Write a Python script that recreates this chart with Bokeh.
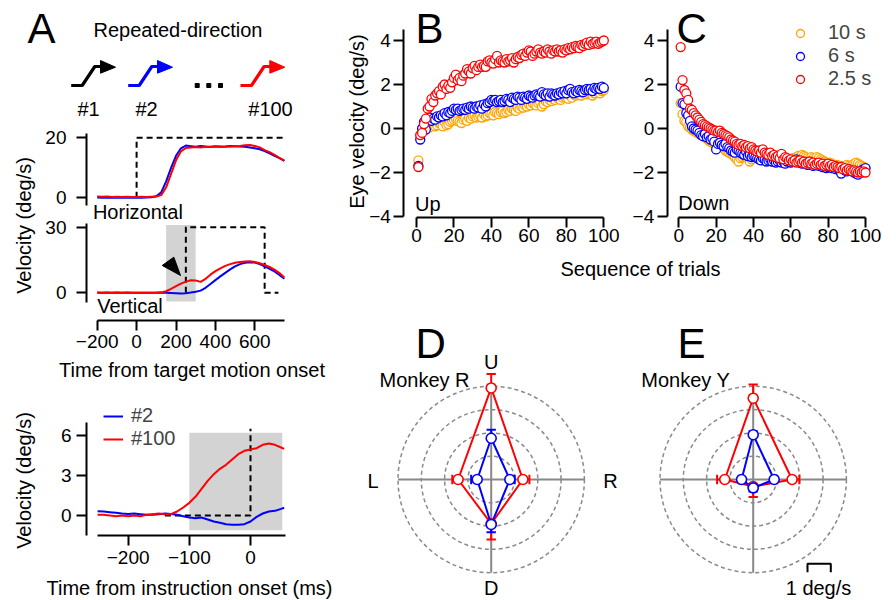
import numpy as np
from bokeh.plotting import figure
from bokeh.layouts import row, column
from bokeh.models import Range1d, FixedTicker, Legend, LegendItem, LinearAxis
from bokeh.core.properties import value
from bokeh.embed import file_html
from bokeh.resources import INLINE

FONT = "Liberation Sans"
BLUE, RED, ORANGE, BOXGRAY, RINGGRAY = "#0000ff", "#ff0000", "#ffa500", "#d3d3d3", "#8a8a8a"

# ====================== DATA ======================
# Panel A (top): eye velocity aligned to target motion onset (ms, deg/s)
t_motion = [-200, -175, -150, -125, -100, -75, -50, -25, 0, 25, 50, 75, 100, 125, 150, 175, 200,
            225, 250, 275, 300, 325, 350, 375, 400, 425, 450, 475, 500, 525, 550, 575, 600,
            625, 650, 675, 700, 725, 750]
horiz_trial2 = [0.1, 0.05, 0.1, 0.0, 0.1, 0.05, 0.1, 0.05, 0.1, 0.05, 0.1, 0.2, 0.5, 1.8, 5.5, 10.0, 14.0,
                16.5, 17.4, 17.2, 17.0, 17.3, 17.1, 17.0, 17.2, 17.0, 17.1, 17.3, 17.2, 17.1, 17.0, 16.8, 16.5,
                16.2, 15.6, 14.8, 14.0, 13.2, 12.3]
horiz_trial100 = [0.4, 0.35, 0.4, 0.3, 0.35, 0.3, 0.35, 0.3, 0.3, 0.35, 0.3, 0.35, 0.4, 0.9, 3.5, 8.0, 12.5,
                  15.5, 16.6, 16.8, 16.9, 16.8, 17.0, 16.9, 17.0, 17.1, 17.0, 17.1, 17.2, 17.3, 17.5, 17.6, 17.3,
                  16.8, 15.9, 15.2, 14.3, 13.3, 12.4]
vert_trial2 = [0.1, 0.0, 0.1, 0.05, 0.1, 0.0, 0.1, 0.05, 0.0, 0.05, 0.0, 0.05, 0.0, 0.05, 0.0, -0.1, -0.2,
               -0.3, -0.2, 0.1, 0.5, 1.0, 2.3, 4.0, 5.8, 7.5, 9.1, 10.7, 12.1, 13.1, 13.7, 14.0, 13.8,
               13.1, 12.1, 11.0, 9.8, 8.2, 6.4]
vert_trial100 = [0.0, 0.05, 0.0, 0.05, 0.0, 0.05, 0.0, 0.05, 0.0, 0.05, 0.0, 0.05, 0.1, 0.2, 0.7, 1.8, 3.0,
                 4.2, 5.1, 5.7, 5.6, 5.0, 6.4, 8.3, 9.9, 11.2, 12.3, 13.1, 13.7, 14.1, 14.3, 14.4, 14.1,
                 13.5, 12.7, 11.8, 10.6, 9.0, 7.0]
horiz_target_t = [0, 0, 750]
horiz_target_v = [0, 20, 20]
vert_target_t = [250, 250, 650, 650, 720]
vert_target_v = [0, 30, 30, 0, 0]
vert_window_t = [150, 300]
vert_window_v = [-4.0, 31.0]
arrowhead_t = [130, 189, 223]
arrowhead_v = [12.5, 16.3, 7.9]

# Panel A (bottom): aligned to instruction onset
t_instr = [-250, -240, -230, -220, -210, -200, -190, -180, -170, -160, -150, -140, -130, -120, -110, -100,
           -90, -80, -70, -60, -50, -40, -30, -20, -10, 0, 10, 20, 30, 40, 50, 55]
instr_trial2 = [0.32, 0.3, 0.25, 0.2, 0.15, 0.12, 0.15, 0.1, 0.05, 0.05, 0.1, 0.15, 0.12, 0.05, -0.05, -0.15,
                -0.2, -0.15, -0.3, -0.45, -0.55, -0.65, -0.7, -0.7, -0.65, -0.45, -0.1, 0.15, 0.3, 0.35, 0.5, 0.58]
instr_trial100 = [0.05, 0.05, 0.0, -0.05, 0.0, -0.05, 0.0, -0.05, 0.05, 0.1, 0.15, 0.1, 0.1, 0.3, 0.6, 0.95,
                  1.4, 2.0, 2.6, 3.1, 3.5, 3.8, 4.2, 4.6, 4.85, 4.95, 5.05, 5.3, 5.4, 5.3, 5.1, 5.0]
instr_target_t = [-140, 0, 0]
instr_target_v = [0, 0, 6.5]
instr_window_t = [-100, 52]
instr_window_v = [-1.1, 6.2]

# Panels B, C: eye velocity vs trial number
trials = list(range(1, 101))
up_10s = [-1.45, -0.30, -0.10, 0.20, 0.30, 0.10, 0.05, 0.15, 0.20, 0.10,
          0.15, 0.25, 0.20, 0.10, 0.30, 0.15, 0.20, 0.30, 0.35, 0.40,
          0.45, 0.35, 0.30, 0.25, 0.40, 0.45, 0.35, 0.50, 0.45, 0.55,
          0.60, 0.50, 0.55, 0.60, 0.50, 0.65, 0.55, 0.60, 0.70, 0.65,
          0.60, 0.75, 0.70, 0.65, 0.75, 0.80, 0.70, 0.75, 0.85, 0.80,
          0.90, 0.85, 0.80, 0.95, 0.90, 1.00, 0.95, 1.05, 1.00, 1.10,
          1.05, 1.15, 1.10, 1.05, 1.15, 1.20, 1.00, 1.10, 1.25, 1.20,
          1.30, 1.25, 1.35, 1.30, 1.40, 1.35, 1.30, 1.40, 1.45, 1.40,
          1.35, 1.50, 1.40, 1.55, 1.50, 1.60, 1.55, 1.50, 1.60, 1.65,
          1.55, 1.60, 1.65, 1.50, 1.60, 1.70, 1.65, 1.60, 1.70, 1.75]
up_6s = [-1.70, -0.50, 0.00, 0.30, -0.05, 0.45, 0.50, 0.35, 0.45, 0.40,
         0.55, 0.50, 0.60, 0.55, 0.70, 0.60, 0.75, 0.70, 0.80, 0.90,
         0.85, 0.90, 0.80, 0.85, 0.90, 0.85, 0.95, 0.90, 1.00, 0.95,
         0.90, 1.00, 0.95, 1.05, 0.90, 1.10, 1.00, 1.15, 1.20, 1.30,
         1.25, 1.30, 1.20, 1.25, 1.30, 1.20, 1.25, 1.35, 1.30, 1.20,
         1.40, 1.35, 1.30, 1.45, 1.40, 1.30, 1.45, 1.40, 1.35, 1.50,
         1.45, 1.40, 1.50, 1.55, 1.50, 1.45, 1.65, 1.55, 1.50, 1.60,
         1.45, 1.60, 1.55, 1.50, 1.60, 1.55, 1.65, 1.60, 1.70, 1.60,
         1.75, 1.80, 1.65, 1.60, 1.70, 1.65, 1.75, 1.70, 1.65, 1.75,
         1.80, 1.75, 1.80, 1.70, 1.85, 1.80, 1.85, 1.80, 1.90, 1.85]
up_2p5s = [-1.75, -0.30, -0.20, 0.20, 0.45, 0.90, 1.00, 1.35, 1.20, 1.50,
           1.60, 1.70, 1.55, 1.90, 2.00, 1.80, 1.95, 1.85, 2.10, 2.30,
           2.45, 2.20, 2.30, 2.15, 2.40, 2.50, 2.70, 2.60, 2.50, 2.75,
           2.85, 2.65, 2.80, 2.90, 2.80, 2.85, 2.80, 3.05, 3.10, 3.00,
           2.95, 3.15, 3.30, 3.00, 3.10, 3.05, 3.00, 3.15, 3.05, 3.10,
           3.20, 3.00, 3.15, 3.25, 3.20, 3.35, 3.40, 3.30, 3.45, 3.55,
           3.50, 3.30, 3.40, 3.50, 3.60, 3.45, 3.40, 3.50, 3.45, 3.60,
           3.50, 3.40, 3.55, 3.50, 3.60, 3.50, 3.55, 3.45, 3.60, 3.55,
           3.65, 3.60, 3.70, 3.65, 3.75, 3.70, 3.65, 3.80, 3.75, 3.85,
           3.90, 3.80, 3.95, 3.85, 3.90, 3.95, 3.85, 3.90, 3.95, 4.00]
down_10s = [1.15, 0.65, 0.35, 0.30, 0.10, 0.05, -0.05, -0.10, -0.15, -0.20,
            -0.25, -0.30, -0.35, -0.40, -0.45, -0.55, -0.60, -0.65, -0.70, -0.75,
            -0.80, -0.70, -0.85, -0.90, -1.00, -1.05, -1.10, -1.15, -1.20, -1.30,
            -1.40, -1.50, -1.35, -1.30, -1.25, -1.20, -1.35, -1.50, -1.40, -1.30,
            -1.20, -1.35, -1.40, -1.30, -1.45, -1.40, -1.35, -1.45, -1.40, -1.50,
            -1.45, -1.40, -1.50, -1.45, -1.40, -1.50, -1.45, -1.35, -1.40, -1.45,
            -1.35, -1.40, -1.30, -1.25, -1.30, -1.20, -1.25, -1.30, -1.35, -1.40,
            -1.30, -1.35, -1.40, -1.30, -1.35, -1.40, -1.45, -1.50, -1.55, -1.60,
            -1.55, -1.60, -1.65, -1.70, -1.65, -1.75, -1.70, -1.75, -1.70, -1.65,
            -1.70, -1.75, -1.65, -1.60, -1.55, -1.60, -1.65, -1.70, -1.75, -1.80]
down_6s = [1.90, 1.15, 1.10, 0.70, 0.60, 0.35, 0.10, 0.00, -0.05, -0.10,
           -0.20, -0.30, -0.35, -0.25, -0.40, -0.35, -0.50, -0.45, -0.60, -0.95,
           -0.70, -0.65, -0.75, -0.80, -0.70, -0.85, -0.90, -1.00, -1.05, -1.10,
           -0.95, -1.00, -1.10, -1.15, -1.20, -1.05, -1.25, -1.20, -1.30, -1.25,
           -1.30, -1.35, -1.40, -1.45, -1.35, -1.40, -1.50, -1.45, -1.40, -1.50,
           -1.45, -1.55, -1.50, -1.45, -1.55, -1.50, -1.60, -1.50, -1.45, -1.55,
           -1.50, -1.45, -1.40, -1.50, -1.55, -1.60, -1.55, -1.60, -1.65, -1.55,
           -1.60, -1.70, -1.65, -1.60, -1.70, -1.65, -1.75, -1.70, -1.80, -1.75,
           -1.70, -1.80, -1.75, -1.85, -1.80, -1.90, -2.05, -1.85, -1.90, -1.95,
           -1.85, -1.90, -1.95, -2.00, -2.05, -2.10, -1.95, -1.90, -1.85, -1.80]
down_2p5s = [3.70, 2.20, 1.75, 1.60, 1.30, 0.90, 0.85, 0.70, 0.60, 0.50,
             0.40, 0.30, 0.20, 0.15, 0.10, 0.05, 0.00, -0.05, -0.10, -0.10,
             -0.15, -0.10, -0.20, -0.25, -0.30, -0.35, -0.40, -0.50, -0.55, -0.60,
             -0.70, -0.75, -0.70, -0.80, -0.75, -0.85, -0.80, -0.90, -0.85, -0.95,
             -1.00, -1.05, -1.00, -1.10, -0.95, -1.10, -1.15, -1.20, -1.10, -1.25,
             -1.20, -1.30, -1.25, -1.35, -1.15, -1.40, -1.30, -1.35, -1.45, -1.40,
             -1.50, -1.45, -1.55, -1.50, -1.45, -1.55, -1.50, -1.60, -1.55, -1.50,
             -1.60, -1.55, -1.65, -1.60, -1.55, -1.65, -1.60, -1.70, -1.65, -1.60,
             -1.70, -1.65, -1.75, -1.70, -1.75, -1.80, -1.75, -1.85, -1.80, -1.90,
             -1.85, -1.90, -1.95, -1.90, -1.95, -2.00, -1.95, -2.00, -1.95, -2.00]

# Panels D, E: polar plots (order: Up, Right, Down, Left), deg/s
directions = ["U", "R", "D", "L"]
ring_radii = [1, 2, 3, 4]
monkeyR_2p5s = [3.93, 1.36, 1.90, 1.42]
monkeyR_2p5s_err = [0.60, 0.28, 0.67, 0.25]
monkeyR_6s = [1.77, 0.80, 1.93, 0.60]
monkeyR_6s_err = [0.37, 0.21, 0.33, 0.26]
monkeyY_2p5s = [3.49, 1.67, 0.30, 1.22]
monkeyY_2p5s_err = [0.59, 0.31, 0.45, 0.33]
monkeyY_6s = [1.92, 0.90, 0.36, 0.50]
monkeyY_6s_err = [0.15, 0.13, 0.15, 0.12]
scale_bar_len = 1.0

# ====================== PIXEL -> DATA MAPS (layout only) ======================
tx = lambda px: (px - 136.1) / 0.197        # panel A top, time
hy = lambda py: (197.3 - py) / 3.0          # horizontal velocity
vy = lambda py: (292.3 - py) / 2.187        # vertical velocity
ix = lambda px: (px - 250.0) / 0.6117       # panel A bottom, time
iy = lambda py: (515.0 - py) / 13.333
bx = lambda px: (px - 416.0) / 1.873        # panel B trials
cx = lambda px: (px - 678.3) / 1.867        # panel C trials
by = lambda py: 4.0 - (py - 40.0) / 22.0    # B/C velocity
dx = lambda px: (px - 490.7) / 23.3         # panel D
ex = lambda px: (px - 752.7) / 23.3         # panel E
dy = lambda py: (479.0 - py) / 23.3


# ====================== HELPERS ======================
def fig(w, h, xr, yr, xaxis=False, yaxis=False):
    p = figure(width=w, height=h, x_range=Range1d(*xr), y_range=Range1d(*yr),
               toolbar_location=None, output_backend="svg",
               x_axis_location="below" if xaxis else None,
               y_axis_location="left" if yaxis else None)
    p.min_border_left = p.min_border_right = p.min_border_top = p.min_border_bottom = 0
    p.outline_line_color = None
    p.grid.visible = False
    p.background_fill_color = "white"
    p.border_fill_color = "white"
    return p


def style_axis(ax, ticks, bounds, loc, standoff=3):
    ax.fixed_location = loc
    ax.ticker = FixedTicker(ticks=ticks)
    ax.bounds = bounds
    ax.axis_line_width = 2
    ax.axis_line_color = "black"
    ax.major_tick_line_width = 2
    ax.major_tick_line_color = "black"
    ax.major_tick_out = 10
    ax.major_tick_in = 0
    ax.minor_tick_line_color = None
    ax.minor_tick_out = 0
    ax.major_label_text_font = FONT
    ax.major_label_text_font_size = "19px"
    ax.major_label_text_color = "black"
    ax.major_label_standoff = standoff


def txt(p, x, y, s, size="20px", align="center", angle=0.0, y_range_name="default"):
    p.text(x=[x], y=[y], text=[s], text_font=value(FONT), text_font_size=size,
           text_align=align, text_baseline="middle", angle=angle, text_color="black",
           y_range_name=y_range_name)


# ====================== PANEL A HEADER ======================
hdr = fig(345, 125, (0, 345), (125, 0))
txt(hdr, 27, 28.3, "A", size="42px", align="left")
txt(hdr, 177.5, 29, "Repeated-direction")
icon_dx = [0, 11, 23.6, 30]
icon_dy = [0, 0, -19, -19]
head_dx = [29.3, 29.3, 44.3]
head_dy = [-25, -12.3, -18.3]
for x0, col in zip([70.7, 127.7, 240.0], ["black", BLUE, RED]):
    hdr.line([x0 + d for d in icon_dx], [85 + d for d in icon_dy], line_color=col, line_width=3.2)
    hdr.patch([x0 + d for d in head_dx], [85 + d for d in head_dy], color=col)
hdr.scatter([196.7, 208.3, 220.0], [85, 85, 85], marker="square", size=4, color="black")
for x0, lab in zip([88, 146, 270], ["#1", "#2", "#100"]):
    txt(hdr, x0, 108, lab)

vlab = fig(40, 475, (0, 40), (600, 125))
txt(vlab, 23, 225, "Velocity (deg/s)", angle=np.pi / 2)
txt(vlab, 23, 480, "Velocity (deg/s)", angle=np.pi / 2)

# ---- Horizontal + Vertical (one canvas, two y ranges) ----
pa = fig(305, 260, (tx(40), tx(345)), (vy(385), vy(125)), xaxis=True, yaxis=True)
pa.extra_y_ranges = {"h": Range1d(hy(385), hy(125))}
ax_h = LinearAxis(y_range_name="h")
pa.add_layout(ax_h, "left")
style_axis(ax_h, [0, 20], (hy(205), 21.5), tx(86), standoff=10)
style_axis(pa.yaxis[0], [0, 30], (-4.3, 31.7), tx(86), standoff=10)
style_axis(pa.xaxis[0], [-200, 0, 200, 400, 600], (-200, 750), vy(320), standoff=4)

pa.line(horiz_target_t, horiz_target_v, line_color="black", line_width=2, line_dash="6 4", y_range_name="h")
pa.line(t_motion, horiz_trial2, line_color=BLUE, line_width=2, y_range_name="h")
pa.line(t_motion, horiz_trial100, line_color=RED, line_width=2, y_range_name="h")

pa.quad(left=[vert_window_t[0]], right=[vert_window_t[1]], bottom=[vert_window_v[0]],
        top=[vert_window_v[1]], fill_color=BOXGRAY, line_color=None)
pa.line(vert_target_t, vert_target_v, line_color="black", line_width=2, line_dash="6 4")
pa.line(t_motion, vert_trial2, line_color=BLUE, line_width=2)
pa.line(t_motion, vert_trial100, line_color=RED, line_width=2)
pa.patch(arrowhead_t, arrowhead_v, color="black")
txt(pa, tx(92.4), vy(211.7), "Horizontal", align="left")
txt(pa, tx(96.7), vy(305), "Vertical", align="left")
txt(pa, tx(191.5), vy(369), "Time from target motion onset")

# ---- Instruction-aligned ----
pi_ = fig(305, 215, (ix(40), ix(345)), (iy(600), iy(385)), xaxis=True, yaxis=True)
style_axis(pi_.yaxis[0], [0, 3, 6], (-1.5, 7.0), ix(86), standoff=5)
style_axis(pi_.xaxis[0], [-200, -100, 0], (-250, 57), iy(535), standoff=5)
pi_.quad(left=[instr_window_t[0]], right=[instr_window_t[1]], bottom=[instr_window_v[0]],
         top=[instr_window_v[1]], fill_color=BOXGRAY, line_color=None)
pi_.line(instr_target_t, instr_target_v, line_color="black", line_width=2, line_dash="6 4")
r2 = pi_.line(t_instr, instr_trial2, line_color=BLUE, line_width=2)
r100 = pi_.line(t_instr, instr_trial100, line_color=RED, line_width=2)
txt(pi_, ix(189), iy(587), "Time from instruction onset (ms)")
leg_i = Legend(items=[LegendItem(label="#2", renderers=[r2]), LegendItem(label="#100", renderers=[r100])],
               location=(63, 150), padding=0, margin=0, spacing=0, glyph_width=20, glyph_height=20,
               label_height=20, label_standoff=8, border_line_color=None, background_fill_alpha=0,
               label_text_font=FONT, label_text_font_size="20px", label_text_baseline="middle")
pi_.add_layout(leg_i)

left_col = column(hdr, row(vlab, column(pa, pi_)))

# ====================== PANELS B, C ======================
pB = fig(275, 252, (bx(345), bx(620)), (by(252), by(0)), xaxis=True, yaxis=True)
pC = fig(276, 252, (cx(620), cx(896)), (by(252), by(0)), xaxis=True, yaxis=True)
renders = {}
for p, series, ax_x in ((pB, (up_10s, up_6s, up_2p5s), bx(403.3)),
                        (pC, (down_10s, down_6s, down_2p5s), cx(666.7))):
    style_axis(p.yaxis[0], [-4, -2, 0, 2, 4], (-4, 4.5), ax_x, standoff=3)
    style_axis(p.xaxis[0], [0, 20, 40, 60, 80, 100], (0, 100), by(217.3), standoff=1)
    rs = []
    for vals, col in zip(series, (ORANGE, BLUE, RED)):
        rs.append(p.scatter(trials, vals, marker="circle", size=9, fill_color="white",
                            line_color=col, line_width=1.3))
    renders[p] = rs
txt(pB, bx(356), by(121), "Eye velocity (deg/s)", angle=np.pi / 2)
txt(pB, bx(415), by(28), "B", size="42px", align="left")
txt(pC, cx(676), by(28), "C", size="42px", align="left")
txt(pB, bx(414.5), by(203), "Up", align="left")
txt(pC, cx(677.7), by(202.7), "Down", align="left")
rsC = renders[pC]
leg_c = Legend(items=[LegendItem(label="10 s", renderers=[rsC[0]]),
                      LegendItem(label="6 s", renderers=[rsC[1]]),
                      LegendItem(label="2.5 s", renderers=[rsC[2]])],
               location=(170, 162), padding=0, margin=0, spacing=0, glyph_width=20, glyph_height=20,
               label_height=20, label_standoff=18, border_line_color=None, background_fill_alpha=0,
               label_text_font=FONT, label_text_font_size="20px", label_text_baseline="middle")
pC.add_layout(leg_c)

strip = fig(551, 38, (345, 896), (290, 252))
txt(strip, 640, 268, "Sequence of trials")

# ====================== PANELS D, E ======================
dir_x = np.array([0, 1, 0, -1])
dir_y = np.array([1, 0, -1, 0])


def polar(p, series):
    n = len(ring_radii)
    p.circle(x=[0] * n, y=[0] * n, radius=ring_radii, fill_color=None, line_color=RINGGRAY,
             line_width=1.5, line_dash="4 3")
    rmax = max(ring_radii)
    p.segment(x0=[-rmax, 0], y0=[0, -rmax], x1=[rmax, 0], y1=[0, rmax], line_color="#888888", line_width=2)
    for vals, errs, col in series:
        v = np.array(vals)
        e = np.array(errs)
        xs = v * dir_x
        ys = v * dir_y
        p.line(np.append(xs, xs[0]), np.append(ys, ys[0]), line_color=col, line_width=2)
        outer = v + e
        ox, oy = outer * dir_x, outer * dir_y
        p.segment(x0=xs, y0=ys, x1=ox, y1=oy, line_color=col, line_width=2)
        cap = 0.2
        px_, py_ = np.abs(dir_y), np.abs(dir_x)
        p.segment(x0=ox - cap * px_, y0=oy - cap * py_, x1=ox + cap * px_, y1=oy + cap * py_,
                  line_color=col, line_width=2)
        p.scatter(xs, ys, marker="circle", size=10, fill_color="white", line_color=col, line_width=1.6)


pD = fig(275, 310, (dx(345), dx(620)), (dy(600), dy(290)))
polar(pD, [(monkeyR_2p5s, monkeyR_2p5s_err, RED), (monkeyR_6s, monkeyR_6s_err, BLUE)])
txt(pD, dx(415), dy(343.3), "D", size="42px", align="left")
txt(pD, dx(424), dy(379.3), "Monkey R")
txt(pD, dx(490.7), dy(361), "U")
txt(pD, dx(490.7), dy(587), "D")
txt(pD, dx(372.5), dy(480), "L")
txt(pD, dx(610), dy(480), "R")

pE = fig(276, 310, (ex(620), ex(896)), (dy(600), dy(290)))
polar(pE, [(monkeyY_2p5s, monkeyY_2p5s_err, RED), (monkeyY_6s, monkeyY_6s_err, BLUE)])
txt(pE, ex(677), dy(343.3), "E", size="42px", align="left")
txt(pE, ex(685.3), dy(379.3), "Monkey Y")
sb_x0 = ex(807)
pE.line([sb_x0, sb_x0, sb_x0 + scale_bar_len, sb_x0 + scale_bar_len],
        [dy(571.7), dy(563.3), dy(563.3), dy(571.7)], line_color="black", line_width=2)
txt(pE, ex(818), dy(587), "1 deg/s")

right_col = column(row(pB, pC), strip, row(pD, pE))
layout = row(left_col, right_col)

open("out.html", "w").write(file_html(layout, INLINE))
